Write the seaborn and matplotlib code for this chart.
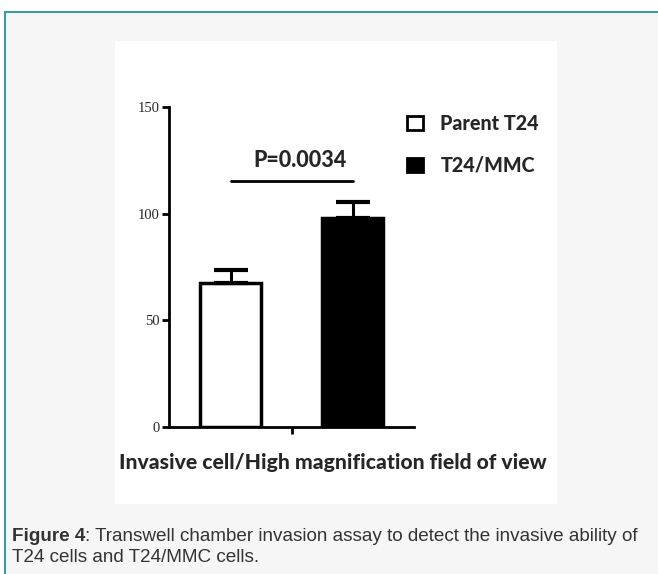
import matplotlib
matplotlib.use("Agg")
import matplotlib.pyplot as plt
import seaborn as sns
import pandas as pd
from matplotlib.patches import Rectangle, Patch

# ---- data ----
groups = ["Parent T24", "T24/MMC"]
means = [67.5, 97.9]
errors = [6.2, 7.6]
category = ["Invasive cell/High magnification field of view"]
yticks = [0, 50, 100, 150]
p_text = "P=0.0034"
sig_level = 115.3
caption_bold = "Figure 4"
caption_line1 = ": Transwell chamber invasion assay to detect the invasive ability of"
caption_line2 = "T24 cells and T24/MMC cells."

df = pd.DataFrame({"cat": category * len(groups), "group": groups, "value": means})

sns.set_theme(style="white")
plt.rcParams["font.family"] = ["DejaVu Sans"]

W, H = 658, 574
fig = plt.figure(figsize=(W / 100, H / 100), dpi=100, facecolor="white")

# outer bordered panel
fig.patches.append(Rectangle((5 / W, -0.05), 1.1, 1 - 12 / H + 0.05, transform=fig.transFigure,
                             facecolor="#f6f6f6", edgecolor="#3d9b9b", lw=1.5, zorder=-3))
# white image panel
fig.patches.append(Rectangle((115 / W, 1 - 504 / H), 442 / W, 463 / H, transform=fig.transFigure,
                             facecolor="white", edgecolor="none", zorder=-2))

ax = fig.add_axes([169 / W, 1 - 427 / H, (414 - 169) / W, (427 - 107) / H])
ax.set_facecolor("none")

sns.barplot(data=df, x="cat", y="value", hue="group", hue_order=groups,
            palette=["white", "black"], edgecolor="black", linewidth=2.5,
            width=0.8, gap=0.5, errorbar=None, legend=False, ax=ax)

bars = [p for p in ax.patches]
xc = [b.get_x() + b.get_width() / 2 for b in bars]
ax.errorbar(xc, means, yerr=[[0] * len(errors), errors], fmt="none", ecolor="black",
            elinewidth=2.2, capsize=12, capthick=3, zorder=1)

ax.set_ylim(0, 150)
ax.set_xlim(-0.403, 0.40)
ax.set_yticks(yticks)
ax.set_yticklabels([str(t) for t in yticks], family="Liberation Serif", fontsize=10.5)
ax.set_xticks([0])
ax.set_xticklabels([""])
ax.set_ylabel("")
ax.set_xlabel(category[0], family="Lato", fontweight="black", fontsize=15.2)
ax.xaxis.set_label_coords(0.67, -0.112)
ax.xaxis.label.set_va("center")
sns.despine(ax=ax)
for s in ["left", "bottom"]:
    ax.spines[s].set_linewidth(2)
    ax.spines[s].set_color("black")
ax.tick_params(axis="both", direction="out", length=5, width=2, color="black", pad=2,
               left=True, bottom=True)

# significance bar
ax.plot([xc[0], xc[1]], [sig_level, sig_level], color="black", lw=2)
ax.text(sum(xc) / 2 + 0.025, 125, p_text, ha="center", va="center",
        family="Lato", fontweight="black", fontsize=15.5)

# legend
handles = [Patch(facecolor="white", edgecolor="black", lw=2),
           Patch(facecolor="black", edgecolor="black", lw=2)]
leg = fig.legend(handles, groups, loc="upper left", bbox_to_anchor=(399 / W, 1 - 106 / H),
                 frameon=False, handlelength=0.8, handleheight=0.7, handletextpad=0.9,
                 labelspacing=1.15, borderaxespad=0,
                 prop={"family": "Lato", "weight": "black", "size": 14.2})

# caption
t1 = fig.text(12 / W, 1 - 541 / H, caption_bold, family="Liberation Sans", fontweight="bold",
              fontsize=13.6, va="baseline", color="#333333")
fig.canvas.draw()
bb = t1.get_window_extent()
fig.text(bb.x1 / W, 1 - 541 / H, caption_line1, family="Liberation Sans",
         fontsize=13.6, va="baseline", color="#333333")
fig.text(12 / W, 1 - 562 / H, caption_line2, family="Liberation Sans",
         fontsize=13.6, va="baseline", color="#333333")

fig.savefig("out.png", dpi=100, facecolor="white")
